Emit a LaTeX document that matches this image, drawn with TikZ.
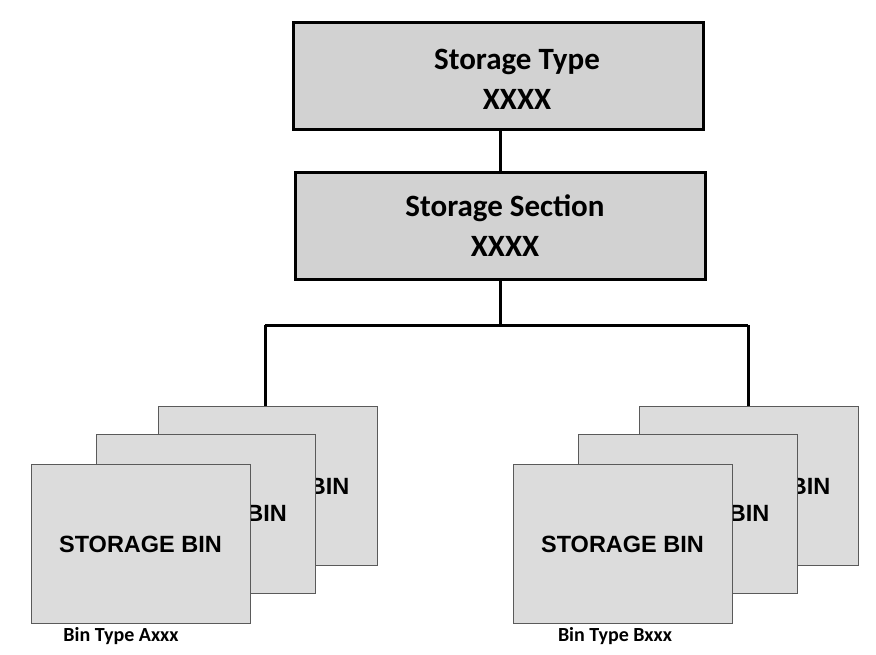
\documentclass[tikz,border=0pt]{standalone}
\usepackage{fontspec}
\setmainfont{Carlito}
\newfontfamily\arialf{Liberation Sans}
\begin{document}
\begin{tikzpicture}[x=1pt,y=-1pt,
  hbox/.style={draw=black,line width=3pt,fill={rgb,255:red,210;green,210;blue,210},minimum width=410pt,minimum height=107pt,inner sep=0pt},
  htext/.style={align=center,font=\bfseries\fontsize{31}{40}\selectfont},
  bin/.style={draw={rgb,255:red,90;green,90;blue,90},line width=0.8pt,fill={rgb,255:red,220;green,220;blue,220},minimum width=219pt,minimum height=159pt,inner sep=0pt,font=\arialf\bfseries\fontsize{23.5}{26}\selectfont},
  conn/.style={line width=3pt},
  lab/.style={font=\bfseries\fontsize{20}{24}\selectfont}]
\useasboundingbox (0,0) rectangle (876,654);
\node[hbox] (type) at (498,76) {};
\node[htext] (typet) at (517,79) {Storage Type\\XXXX};
\node[hbox] (sec) at (500,226) {};
\node[htext] (sect) at (505,226) {Storage Section\\XXXX};
\coordinate (t) at (500,130);
\coordinate (j) at (500,325);
\coordinate (jl) at (265,325);
\coordinate (jr) at (748,325);
\node[bin] (la) at (268,486) {STORAGE BIN};
\node[bin] (lb) at (205.5,513.5) {STORAGE BIN};
\node[bin] (lc) at (140.5,544) {STORAGE BIN};
\node[bin] (ra) at (749,486) {STORAGE BIN};
\node[bin] (rb) at (688,513.5) {STORAGE BIN};
\node[bin] (rc) at (622.5,544) {STORAGE BIN};
\draw[conn] (t) -- (sec.north);
\draw[conn] (sec.south) -- (j);
\draw[conn] (jl) -- (jr);
\draw[conn] (jl) -- (jl|-la.north);
\draw[conn] (jr) -- (jr|-ra.north);
\node[lab] (ta) at (121,636) {Bin Type Axxx};
\node[lab] (tb) at (615,636) {Bin Type Bxxx};
\end{tikzpicture}
\end{document}
